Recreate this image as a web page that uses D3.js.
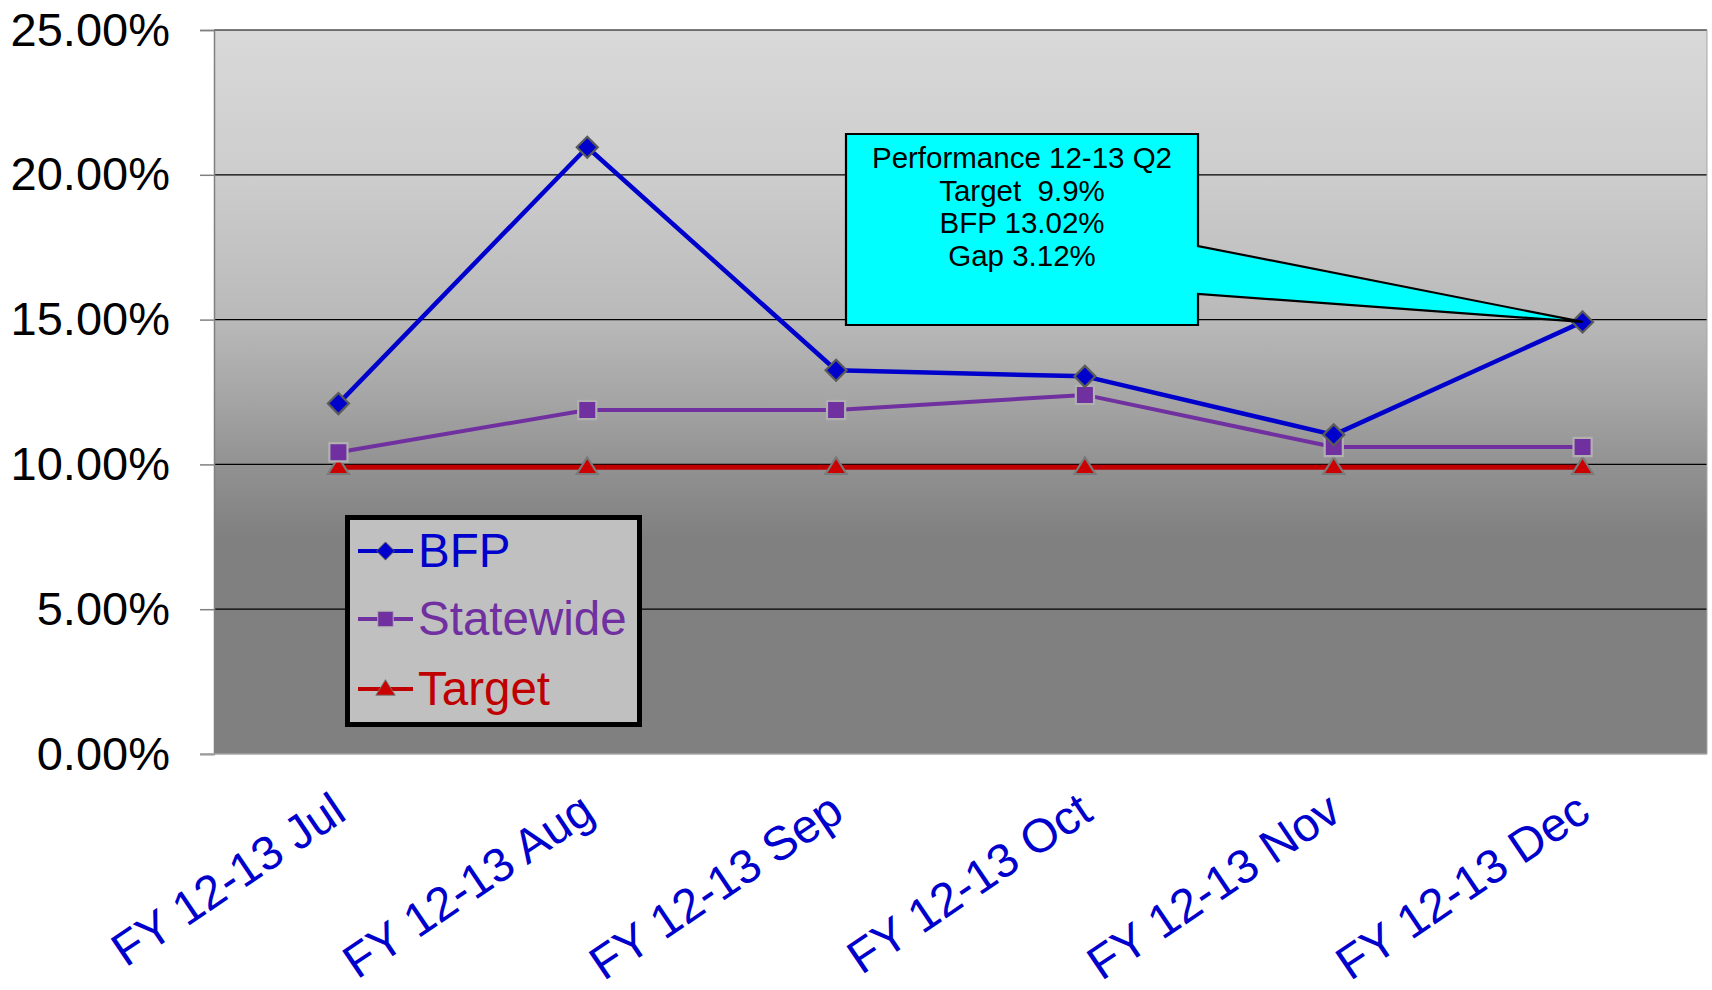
<!DOCTYPE html>
<html>
<head>
<meta charset="utf-8">
<script src="https://cdn.jsdelivr.net/npm/d3@7"></script>
<style>
  html, body { margin: 0; padding: 0; background: #ffffff; }
  svg { display: block; font-family: "Liberation Sans", Arial, sans-serif; }
</style>
</head>
<body>
<svg id="chart" width="1712" height="990"></svg>
<script>
// ---- data ----
const categories = ["FY 12-13 Jul", "FY 12-13 Aug", "FY 12-13 Sep", "FY 12-13 Oct", "FY 12-13 Nov", "FY 12-13 Dec"];
const bfp = [12.1, 20.95, 13.25, 13.04, 11.02, 14.92];
const statewide = [10.42, 11.88, 11.88, 12.4, 10.6, 10.6];
const target = [9.9, 9.9, 9.9, 9.9, 9.9, 9.9];
const yTicks = [0, 5, 10, 15, 20, 25];
const seriesNames = ["BFP", "Statewide", "Target"];
const calloutLines = ["Performance 12-13 Q2", "Target  9.9%", "BFP 13.02%", "Gap 3.12%"];

// ---- layout ----
const svg = d3.select("#chart");
const plot = { left: 214, right: 1707, top: 30, bottom: 754 };
const x = d3.scalePoint().domain(categories).range([plot.left, plot.right]).padding(0.5);
const y = d3.scaleLinear().domain([0, 25]).range([plot.bottom, plot.top]);

const colors = { BFP: "#0000CC", Statewide: "#7030A0", Target: "#C00000" };
const markerFill = { BFP: "#0000CC", Statewide: "#7030A0", Target: "#CC0000" };

// background gradient
const defs = svg.append("defs");
const grad = defs.append("linearGradient").attr("id", "bg")
  .attr("x1", 0).attr("y1", 0).attr("x2", 0).attr("y2", 1);
[[0, "#d9d9d9"], [0.2, "#cdcdcd"], [0.4, "#b9b9b9"], [0.51, "#a5a5a5"], [0.6, "#929292"], [0.7, "#808080"], [1, "#808080"]]
  .forEach(([o, c]) => grad.append("stop").attr("offset", o).attr("stop-color", c));

svg.append("rect")
  .attr("x", plot.left).attr("y", plot.top)
  .attr("width", plot.right - plot.left).attr("height", plot.bottom - plot.top)
  .attr("fill", "url(#bg)");

// gridlines
svg.append("g").selectAll("line").data(yTicks.filter(d => d > 0)).join("line")
  .attr("x1", plot.left).attr("x2", plot.right)
  .attr("y1", d => y(d)).attr("y2", d => y(d))
  .attr("stroke", "#000").attr("stroke-width", 1.2);

// right border
svg.append("line").attr("x1", plot.right).attr("x2", plot.right)
  .attr("y1", plot.top).attr("y2", plot.bottom).attr("stroke", "#a6a6a6").attr("stroke-width", 1);

// y axis
const yAxis = d3.axisLeft(y).tickValues(yTicks).tickSize(14).tickPadding(30)
  .tickFormat(d => d3.format(".2f")(d) + "%");
const yg = svg.append("g").attr("transform", `translate(${plot.left},0)`).call(yAxis);
yg.select(".domain").attr("stroke", "#808080").attr("stroke-width", 1.5);
yg.selectAll(".tick line").attr("stroke", "#808080").attr("stroke-width", 1.5);
yg.selectAll(".tick text").attr("font-size", 47).attr("fill", "#000")
  .attr("font-family", "'Liberation Sans', Arial, sans-serif");

// bottom axis line
svg.append("line").attr("x1", 200).attr("x2", plot.right)
  .attr("y1", plot.bottom).attr("y2", plot.bottom)
  .attr("stroke", "#a6a6a6").attr("stroke-width", 1.5);

// x labels
const xg = svg.append("g");
xg.selectAll("text").data(categories).join("text")
  .attr("transform", d => `translate(${x(d) + 10},818) rotate(-34)`)
  .attr("text-anchor", "end")
  .attr("font-size", 47.5)
  .attr("fill", "#0000CC")
  .text(d => d);

// custom symbols
const diamondType = { draw(ctx, size) { const r = Math.sqrt(size / 2); ctx.moveTo(0, -r); ctx.lineTo(r, 0); ctx.lineTo(0, r); ctx.lineTo(-r, 0); ctx.closePath(); } };
const triType = { draw(ctx, size) { const s = Math.sqrt(size); const h = s * 0.8; ctx.moveTo(0, -h * 0.6); ctx.lineTo(s / 2, h * 0.4); ctx.lineTo(-s / 2, h * 0.4); ctx.closePath(); } };

// series
const seriesData = { BFP: bfp, Statewide: statewide, Target: target };
const widths = { BFP: 4.5, Statewide: 4, Target: 5 };
const line = d3.line().x((d, i) => x(categories[i])).y(d => y(d));

const symbols = {
  BFP: d3.symbol().type(diamondType).size(220),
  Statewide: d3.symbol().type(d3.symbolSquare).size(330),
  Target: d3.symbol().type(triType).size(440)
};
const strokes = { BFP: "#5a5a5a", Statewide: "#b0b0b0", Target: "#7a7a7a" };

["Target", "Statewide", "BFP"].forEach(name => {
  const g = svg.append("g");
  g.append("path").datum(seriesData[name])
    .attr("d", line).attr("fill", "none")
    .attr("stroke", colors[name]).attr("stroke-width", widths[name])
    .attr("stroke-linejoin", "round");
  g.selectAll("path.m").data(seriesData[name]).join("path").attr("class", "m")
    .attr("transform", (d, i) => `translate(${x(categories[i])},${y(d)})`)
    .attr("d", symbols[name]())
    .attr("fill", markerFill[name])
    .attr("stroke", strokes[name]).attr("stroke-width", 2.2);
});

// legend
const lg = svg.append("g");
lg.append("rect").attr("x", 347.5).attr("y", 517.5).attr("width", 292).attr("height", 207)
  .attr("fill", "#c0c0c0").attr("stroke", "#000").attr("stroke-width", 5);
const legY = [551, 619, 689];
const legSymbols = [
  d3.symbol().type(diamondType).size(160),
  d3.symbol().type(d3.symbolSquare).size(240),
  d3.symbol().type(triType).size(380)
];
seriesNames.forEach((name, i) => {
  lg.append("line").attr("x1", 358).attr("x2", 413).attr("y1", legY[i]).attr("y2", legY[i])
    .attr("stroke", colors[name]).attr("stroke-width", 4);
  lg.append("path").attr("transform", `translate(385.5,${legY[i]})`)
    .attr("d", legSymbols[i]())
    .attr("fill", markerFill[name]).attr("stroke", strokes[name]).attr("stroke-width", 1);
  lg.append("text").attr("x", 418).attr("y", legY[i] + 16)
    .attr("font-size", 47.5).attr("fill", colors[name]).text(name);
});

// callout
const tipX = x(categories[5]), tipY = y(bfp[5]);
const box = { l: 846, t: 134, r: 1198, b: 325 };
const pts = [[box.l, box.t], [box.r, box.t], [box.r, 246], [tipX, tipY], [box.r, 294], [box.r, box.b], [box.l, box.b]];
svg.append("path")
  .attr("d", "M" + pts.map(p => p.join(",")).join("L") + "Z")
  .attr("fill", "#00FFFF").attr("stroke", "#000").attr("stroke-width", 2.2)
  .attr("stroke-linejoin", "miter");
svg.append("g").selectAll("text").data(calloutLines).join("text")
  .attr("x", 1022).attr("y", (d, i) => 168 + i * 32.5)
  .attr("text-anchor", "middle").attr("font-size", 29.5).attr("fill", "#000")
  .style("white-space", "pre")
  .text(d => d);
</script>
</body>
</html>
